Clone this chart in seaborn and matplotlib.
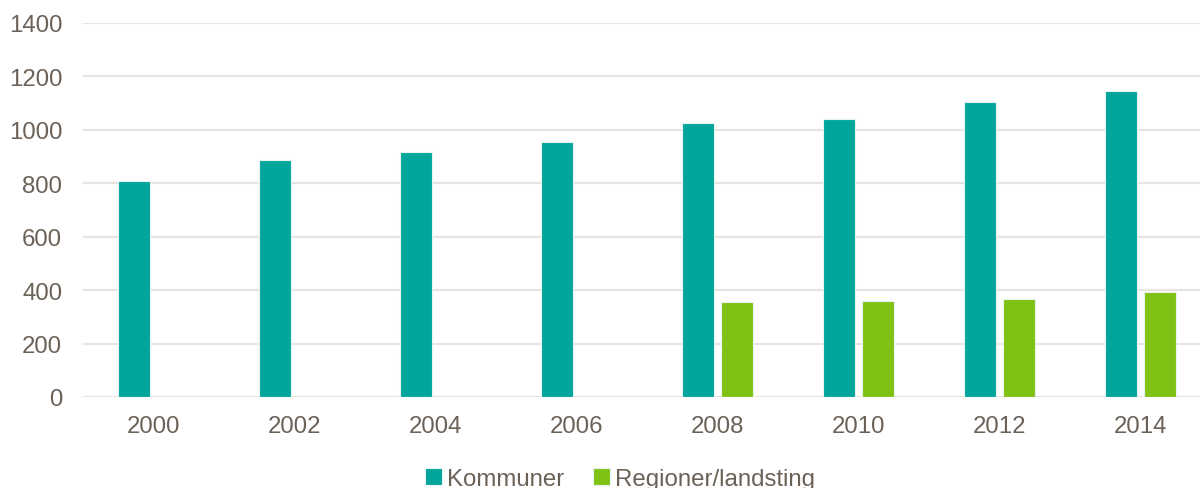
import matplotlib
matplotlib.use("Agg")
import matplotlib.pyplot as plt
import pandas as pd
import seaborn as sns

years = ["2000", "2002", "2004", "2006", "2008", "2010", "2012", "2014"]
kommuner = [810, 889, 916, 954, 1024, 1040, 1103, 1144]
regioner_years = ["2008", "2010", "2012", "2014"]
regioner = [357, 360, 365, 393]

df = pd.concat([
    pd.DataFrame({"year": years, "value": kommuner, "group": "Kommuner"}),
    pd.DataFrame({"year": regioner_years, "value": regioner, "group": "Regioner/landsting"}),
])

sns.set_style("white")
plt.rcParams["font.family"] = ["Liberation Sans", "DejaVu Sans"]
text_col = "#6b6157"

fig = plt.figure(figsize=(12, 4.89), dpi=100)
ax = fig.add_axes([83 / 1200, 1 - 398 / 489, 1128 / 1200, (398 - 24) / 489])

sns.barplot(data=df, x="year", y="value", hue="group", order=years,
            palette=["#00a59b", "#80c214"], saturation=1, width=0.567, gap=0.2,
            edgecolor="#e6f3f1", linewidth=0.8, ax=ax, legend=True)

ax.set_ylim(0, 1400)
ax.set_yticks(range(0, 1401, 200))
ax.set_xlim(-0.5, len(years) - 0.5)
ax.yaxis.grid(True, color="#e8e4e1", linewidth=1.6)
ax.set_axisbelow(True)
for s in ax.spines.values():
    s.set_visible(False)
ax.tick_params(axis="both", length=0, labelsize=17.3, colors=text_col)
ax.tick_params(axis="x", pad=13)
ax.tick_params(axis="y", pad=15)
ax.set_xlabel("")
ax.set_ylabel("")

handles, labels = ax.get_legend_handles_labels()
ax.legend(handles, labels, loc="center", bbox_to_anchor=(537 / 1128, -0.22),
          ncol=2, frameon=False, fontsize=17.3, labelcolor=text_col,
          handlelength=0.7, handleheight=0.7, handletextpad=0.2, columnspacing=1.2)

fig.savefig("out.png", dpi=100)
